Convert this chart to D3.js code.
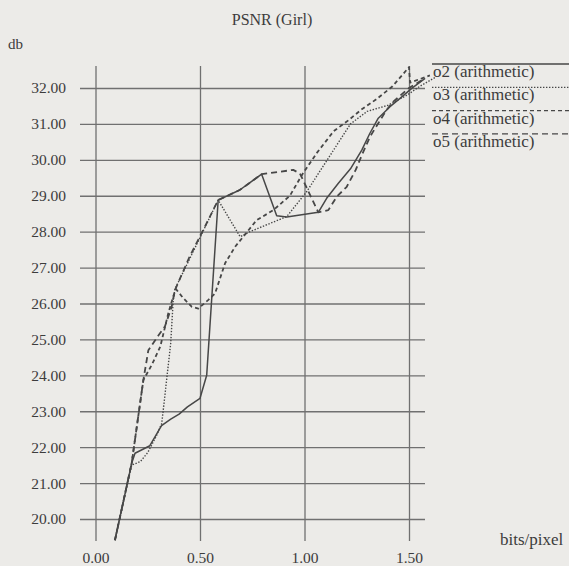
<!DOCTYPE html>
<html>
<head>
<meta charset="utf-8">
<script src="https://cdn.jsdelivr.net/npm/d3@7"></script>
<style>
  body { margin: 0; background: #ecebe8; }
  svg { display: block; }
  text { font-family: "Liberation Serif", "DejaVu Serif", serif; fill: #3c3c3c; }
</style>
</head>
<body>
<div id="chart"></div>
<script>
const WIDTH = 569;
const HEIGHT = 566;

const xTicks = [0, 0.5, 1.0, 1.5];
const yTicks = [20, 21, 22, 23, 24, 25, 26, 27, 28, 29, 30, 31, 32];

// o2 (arithmetic) - solid
const o2X = [0.093, 0.173, 0.189, 0.26, 0.316, 0.36, 0.40, 0.44, 0.50, 0.532, 0.587, 0.69, 0.795, 0.867, 0.915, 1.066, 1.106, 1.162, 1.22, 1.274, 1.313, 1.353, 1.409, 1.457, 1.513, 1.577];
const o2Y = [19.41, 21.55, 21.83, 22.04, 22.6, 22.78, 22.92, 23.12, 23.36, 24.0, 28.88, 29.16, 29.6, 28.44, 28.41, 28.54, 28.93, 29.35, 29.75, 30.27, 30.74, 31.16, 31.48, 31.71, 31.99, 32.27];

// o3 (arithmetic) - dotted
const o3X = [0.093, 0.173, 0.215, 0.25, 0.29, 0.317, 0.36, 0.372, 0.38, 0.587, 0.692, 0.739, 0.915, 1.01, 1.12, 1.22, 1.30, 1.40, 1.49, 1.55, 1.63];
const o3Y = [19.41, 21.5, 21.6, 21.85, 22.3, 22.66, 24.9, 26.1, 26.4, 28.88, 27.86, 28.0, 28.42, 29.11, 30.1, 31.0, 31.35, 31.52, 31.8, 32.04, 32.31];

// o4 (arithmetic) - short dashes
const o4X = [0.093, 0.173, 0.229, 0.27, 0.31, 0.348, 0.372, 0.385, 0.42, 0.46, 0.492, 0.54, 0.572, 0.62, 0.668, 0.771, 0.851, 0.93, 0.99, 1.06, 1.14, 1.21, 1.27, 1.34, 1.42, 1.50, 1.505, 1.60];
const o4Y = [19.41, 21.55, 23.87, 24.3, 24.8, 25.72, 26.2, 26.4, 26.15, 25.91, 25.86, 26.1, 26.28, 27.12, 27.58, 28.32, 28.6, 29.0, 29.6, 30.2, 30.8, 31.1, 31.39, 31.67, 32.04, 32.58, 32.15, 32.35];

// o5 (arithmetic) - long dashes
const o5X = [0.093, 0.173, 0.229, 0.253, 0.30, 0.332, 0.364, 0.38, 0.45, 0.52, 0.587, 0.69, 0.795, 0.946, 0.978, 1.066, 1.114, 1.154, 1.202, 1.245, 1.278, 1.313, 1.353, 1.393, 1.425, 1.50, 1.577];
const o5Y = [19.41, 21.55, 23.87, 24.7, 25.1, 25.36, 25.9, 26.37, 27.3, 28.1, 28.88, 29.16, 29.6, 29.72, 29.62, 28.54, 28.6, 28.97, 29.25, 29.72, 30.18, 30.64, 31.02, 31.39, 31.62, 32.0, 32.27];

const legendNames = ["o2 (arithmetic)", "o3 (arithmetic)", "o4 (arithmetic)", "o5 (arithmetic)"];
const seriesX = [o2X, o3X, o4X, o5X];
const seriesY = [o2Y, o3Y, o4Y, o5Y];

const DASHES = [null, "1.4,1.6", "4,3", "6,4"];
const WIDTHS = [1.5, 1.4, 1.8, 1.8];
const LINE_COLOR = "#474747";
const GRID_COLOR = "#707070";

const svg = d3.select("#chart").append("svg")
  .attr("width", WIDTH)
  .attr("height", HEIGHT);

const xScale = d3.scaleLinear().domain([0, 1.5]).range([95.5, 409]);
const yScale = d3.scaleLinear().domain([20, 32]).range([519, 88]);

const GRID_LEFT = 80, GRID_RIGHT = 425, GRID_TOP = 66, GRID_BOTTOM = 541;

// horizontal gridlines + y labels
const yAxis = d3.axisLeft(yScale)
  .tickValues(yTicks)
  .tickSize(-(GRID_RIGHT - GRID_LEFT))
  .tickPadding(14)
  .tickFormat(d3.format(".2f"));

svg.append("g")
  .attr("transform", "translate(" + GRID_LEFT + ",0)")
  .call(yAxis)
  .call(g => g.select(".domain").remove())
  .call(g => g.selectAll("line").attr("stroke", GRID_COLOR).attr("stroke-width", 1.3))
  .call(g => g.selectAll("text").style("font-size", "15.5px").style("font-family", "Liberation Serif").attr("fill", "#3c3c3c"));

// vertical gridlines + x labels
const xAxis = d3.axisBottom(xScale)
  .tickValues(xTicks)
  .tickSize(-(GRID_BOTTOM - GRID_TOP))
  .tickPadding(11)
  .tickFormat(d3.format(".2f"));

svg.append("g")
  .attr("transform", "translate(0," + GRID_BOTTOM + ")")
  .call(xAxis)
  .call(g => g.select(".domain").remove())
  .call(g => g.selectAll("line").attr("stroke", GRID_COLOR).attr("stroke-width", 1.3))
  .call(g => g.selectAll("text").style("font-size", "15.5px").style("font-family", "Liberation Serif").attr("fill", "#3c3c3c"));

// series
const line = d3.line().x(d => xScale(d[0])).y(d => yScale(d[1]));

seriesX.forEach((xs, i) => {
  const pts = xs.map((x, j) => [x, seriesY[i][j]]);
  svg.append("path")
    .datum(pts)
    .attr("fill", "none")
    .attr("stroke", LINE_COLOR)
    .attr("stroke-width", WIDTHS[i])
    .attr("stroke-dasharray", DASHES[i])
    .attr("stroke-linejoin", "round")
    .attr("d", line);
});

// legend
const legend = svg.append("g");
legendNames.forEach((name, i) => {
  const ly = 64 + i * 23.3;
  legend.append("line")
    .attr("x1", 432).attr("x2", WIDTH)
    .attr("y1", ly).attr("y2", ly)
    .attr("stroke", LINE_COLOR)
    .attr("stroke-width", i === 0 ? 1.5 : 1.3)
    .attr("stroke-dasharray", DASHES[i]);
  legend.append("text")
    .attr("x", 433)
    .attr("y", ly + 13)
    .style("font-size", "17px")
    .text(name);
});

// titles
svg.append("text")
  .attr("x", 272).attr("y", 25)
  .attr("text-anchor", "middle")
  .style("font-size", "16px")
  .text("PSNR (Girl)");

svg.append("text")
  .attr("x", 8).attr("y", 49)
  .style("font-size", "15px")
  .text("db");

svg.append("text")
  .attr("x", 500).attr("y", 545)
  .style("font-size", "17px")
  .text("bits/pixel");
</script>
</body>
</html>
